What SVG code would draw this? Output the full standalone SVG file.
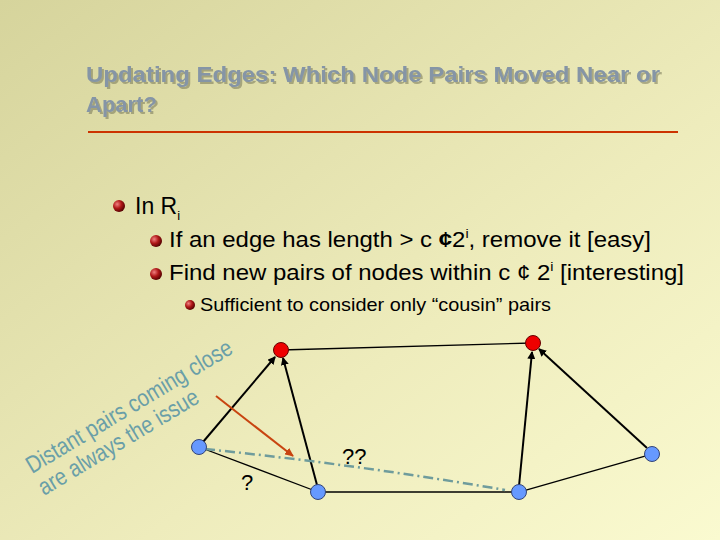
<svg xmlns="http://www.w3.org/2000/svg" width="720" height="540" viewBox="0 0 720 540">
<defs>
<linearGradient id="bg" x1="0" y1="0" x2="1" y2="1">
<stop offset="0" stop-color="#d6d49c"/><stop offset="0.6" stop-color="#eeecbc"/><stop offset="1" stop-color="#fafad0"/>
</linearGradient>
<radialGradient id="bul" cx="0.35" cy="0.35" r="0.7"><stop offset="0" stop-color="#f08080"/><stop offset="0.5" stop-color="#b01818"/><stop offset="1" stop-color="#500000"/></radialGradient>
<filter id="ds" x="-5%" y="-20%" width="110%" height="140%"><feDropShadow dx="2" dy="2" stdDeviation="0.5" flood-color="#6a6a50" flood-opacity="0.5"/></filter>
<marker id="ah" markerWidth="8" markerHeight="8" refX="7" refY="4" orient="auto" markerUnits="userSpaceOnUse"><path d="M0,0 L8,4 L0,8 z" fill="#000"/></marker>
<marker id="ao" markerWidth="9" markerHeight="8" refX="8" refY="4" orient="auto" markerUnits="userSpaceOnUse"><path d="M0,0 L9,4 L0,8 z" fill="#c84410"/></marker>
</defs>
<style>
.t{font-family:"Liberation Sans",Arial,sans-serif}
.title{font-size:22px;font-weight:bold;fill:#8595a6;filter:url(#ds)}
.e{stroke:#000;stroke-width:1.3;fill:none}
.a{stroke:#000;stroke-width:2;fill:none;marker-end:url(#ah)}
.red{fill:#ee0000;stroke:#660000;stroke-width:1}
.blue{fill:#6699ff;stroke:#334477;stroke-width:1}
.diag{font-size:24px;fill:#6a9fa8}
</style>
<rect width="720" height="540" fill="url(#bg)"/>
<g class="t">
<text class="title" x="86" y="82" textLength="574" lengthAdjust="spacingAndGlyphs">Updating Edges: Which Node Pairs Moved Near or</text>
<text class="title" x="86" y="112">Apart?</text>
</g>
<line x1="88" y1="132" x2="678" y2="132" stroke="#cc3300" stroke-width="2"/>
<g class="t" fill="#000">
<circle cx="119" cy="206" r="6" fill="url(#bul)"/>
<text x="135" y="214" font-size="23">In R<tspan font-size="13" dy="6">i</tspan></text>
<circle cx="156" cy="241" r="6" fill="url(#bul)"/>
<text x="169" y="247" font-size="22" textLength="482" lengthAdjust="spacingAndGlyphs">If an edge has length &gt; c <tspan font-weight="bold">¢</tspan>2<tspan font-size="13" dy="-9">i</tspan><tspan dy="9">, remove it [easy]</tspan></text>
<circle cx="156" cy="274" r="6" fill="url(#bul)"/>
<text x="169" y="280" font-size="22" textLength="515" lengthAdjust="spacingAndGlyphs">Find new pairs of nodes within c ¢ 2<tspan font-size="13" dy="-9">i</tspan><tspan dy="9"> [interesting]</tspan></text>
<circle cx="190" cy="305" r="5" fill="url(#bul)"/>
<text x="200" y="311" font-size="18.5" textLength="351" lengthAdjust="spacingAndGlyphs">Sufficient to consider only “cousin” pairs</text>
</g>
<g class="t">
<text class="diag" transform="translate(32,474) rotate(-31)" textLength="236" lengthAdjust="spacingAndGlyphs">Distant pairs coming close</text>
<text class="diag" transform="translate(44,496) rotate(-31)" textLength="183" lengthAdjust="spacingAndGlyphs">are always the issue</text>
</g>
<g id="connectors">
<line class="e" x1="281" y1="350" x2="533" y2="343"/>
<line class="e" x1="199" y1="447" x2="318" y2="492"/>
<line class="e" x1="318" y1="492" x2="519" y2="492"/>
<line class="e" x1="519" y1="492" x2="652" y2="454"/>
<line class="a" x1="203" y1="442" x2="275" y2="357"/>
<line class="a" x1="317" y1="485" x2="283" y2="358"/>
<line class="a" x1="519" y1="486" x2="532" y2="352"/>
<line class="a" x1="647" y1="448" x2="539" y2="349"/>
<path d="M205,449 Q360,465 505,490" stroke="#6f9c9c" stroke-width="2.5" fill="none" stroke-dasharray="10,4,2,4"/>
<line x1="216" y1="396" x2="293" y2="456" stroke="#c84410" stroke-width="2" marker-end="url(#ao)"/>
</g>
<g class="t" font-size="22" fill="#000">
<text x="241" y="490">?</text>
<text x="342" y="464">??</text>
</g>
<g id="n1"><circle class="red" cx="281" cy="350" r="7.5"/></g>
<g id="n2"><circle class="blue" cx="199" cy="447" r="7.5"/></g>
<g id="n3"><circle class="blue" cx="318" cy="492" r="7.5"/></g>
<g id="n4"><circle class="red" cx="533" cy="343" r="7.5"/></g>
<g id="n5"><circle class="blue" cx="519" cy="492" r="7.5"/></g>
<g id="n6"><circle class="blue" cx="652" cy="454" r="7.5"/></g>
</svg>
